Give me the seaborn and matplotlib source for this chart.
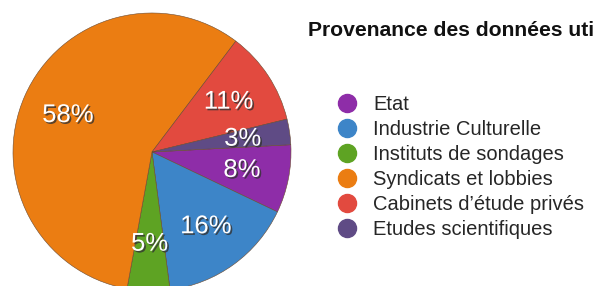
import matplotlib
matplotlib.use("Agg")
import matplotlib.pyplot as plt
import matplotlib.patheffects as pe
from matplotlib.lines import Line2D
import seaborn as sns

# %%
sources = ["Etat", "Industrie Culturelle", "Instituts de sondages",
           "Syndicats et lobbies", "Cabinets d\u2019étude privés", "Etudes scientifiques"]
shares = [8, 16, 5, 58, 11, 3]
colors = ["#8E2DA8", "#3D85C8", "#5EA323", "#EB7D12", "#E24A3F", "#5F4B85"]
title = "Provenance des données utilisées"

# %%
sns.set_style("white")
plt.rcParams["font.family"] = ["Liberation Sans", "DejaVu Sans"]

fig = plt.figure(figsize=(5.95, 2.86), dpi=100)
ax = fig.add_axes([13 / 595, -5 / 286, 278 / 595, 278 / 286])

wedges, texts = ax.pie(
    shares,
    labels=[f"{s}%" for s in shares],
    colors=colors,
    startangle=3,
    counterclock=False,
    labeldistance=0.66,
    radius=1,
    wedgeprops=dict(edgecolor="#6b4a30", linewidth=0.4),
    textprops=dict(color="white", fontsize=18.5, ha="center", va="center"),
)
for t in texts:
    t.set_path_effects([pe.withSimplePatchShadow(offset=(1.2, -1.2), shadow_rgbFace="#333333", alpha=0.8)])
ax.set_xlim(-1, 1)
ax.set_ylim(-1, 1)
ax.set_aspect("equal")
ax.axis("off")

# the title runs past the right edge in the original, clipped there
fig.text(308 / 595, 1 - 30 / 286, title, fontsize=15.2, fontweight="bold",
         ha="left", va="center", color="#111111", clip_on=True)

handles = [Line2D([], [], marker="o", linestyle="", markersize=13,
                  markerfacecolor=c, markeredgecolor=c) for c in colors]
fig.legend(handles, sources, loc="upper left", bbox_to_anchor=(335 / 595, 1 - 95 / 286),
           frameon=False, fontsize=14.5, labelspacing=0.3, handletextpad=0.7,
           handlelength=1.2, borderaxespad=0, borderpad=0)

fig.savefig("out.png", dpi=100)
